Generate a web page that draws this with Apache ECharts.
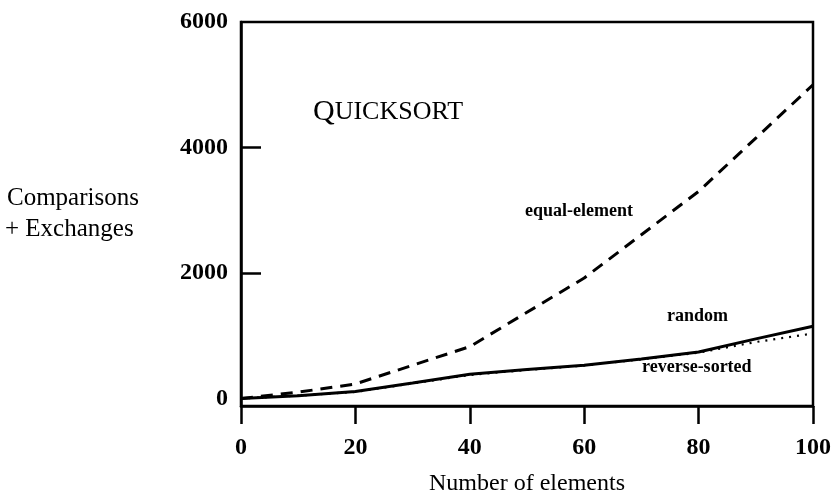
<!DOCTYPE html>
<html>
<head>
<meta charset="utf-8">
<script src="https://cdn.jsdelivr.net/npm/echarts@6/dist/echarts.min.js"></script>
<style>html,body{margin:0;padding:0;background:#fff}#c{width:835px;height:495px}</style>
</head>
<body>
<div id="c"></div>
<script>
var nElements = [0, 10, 20, 30, 40, 50, 60, 70, 80, 90, 100];
var equalElement = [0, 100, 231, 530, 826, 1373, 1920, 2610, 3300, 4150, 5000];
var randomOrder = [0, 45, 110, 245, 385, 460, 530, 630, 740, 950, 1150];
var reverseSorted = [0, 45, 105, 240, 375, 455, 525, 625, 730, 900, 1035];
var xTicks = [0, 20, 40, 60, 80, 100];
var yTickLabels = [0, 2000, 4000, 6000];
var yTickMarks = [2000, 4000];

function pairs(ys) { return nElements.map(function (x, i) { return [x, ys[i]]; }); }

var FONT = '"Liberation Serif", "Times New Roman", serif';
var chart = echarts.init(document.getElementById('c'), null, { renderer: 'canvas' });
chart.setOption({
  animation: false,
  backgroundColor: '#fff',
  grid: { left: 241, right: 22, top: 22, bottom: 89, containLabel: false, outerBoundsMode: 'none',
    show: true, borderColor: '#000', borderWidth: 2.5, backgroundColor: 'transparent' },
  xAxis: {
    type: 'value', min: 0, max: 100, interval: 20,
    name: 'Number of elements', nameLocation: 'middle', nameGap: 66,
    nameTextStyle: { fontFamily: FONT, fontSize: 24, color: '#000' },
    axisLine: { show: true, onZero: false, lineStyle: { color: '#000', width: 2.5 } },
    axisTick: { show: true, inside: false, length: 18, lineStyle: { color: '#000', width: 2.5 }, customValues: xTicks },
    axisLabel: { margin: 30, fontFamily: FONT, fontSize: 24, fontWeight: 'bold', color: '#000', customValues: xTicks,
      formatter: function (v) { return String(v); } },
    splitLine: { show: false }
  },
  yAxis: {
    type: 'value', min: -120, max: 6000,
    axisLine: { show: true, onZero: false, lineStyle: { color: '#000', width: 2.5 } },
    axisTick: { show: true, inside: true, length: 20, lineStyle: { color: '#000', width: 2.5 }, customValues: yTickMarks },
    axisLabel: { margin: 13, fontFamily: FONT, fontSize: 24, fontWeight: 'bold', color: '#000', customValues: yTickLabels,
      formatter: function (v) { return String(v); } },
    splitLine: { show: false }
  },
  series: [
    { name: 'equal-element', type: 'line', data: pairs(equalElement), symbol: 'none',
      lineStyle: { color: '#000', width: 3, type: [12, 8] } },
    { name: 'reverse-sorted', type: 'line', data: pairs(reverseSorted), symbol: 'none',
      lineStyle: { color: '#000', width: 2.2, type: [2, 6] } },
    { name: 'random', type: 'line', data: pairs(randomOrder), symbol: 'none',
      lineStyle: { color: '#000', width: 3 } }
  ],
  graphic: [
    { type: 'text', left: 313, top: 97, style: { rich: {
        big: { fontFamily: FONT, fontSize: 30, fill: '#000' },
        sm: { fontFamily: FONT, fontSize: 26, fill: '#000' } },
        text: '{big|Q}{sm|UICKSORT}' } },
    { type: 'text', left: 525, top: 202, style: { text: 'equal-element', fontFamily: FONT, fontSize: 18, fontWeight: 'bold', fill: '#000' } },
    { type: 'text', left: 667, top: 307, style: { text: 'random', fontFamily: FONT, fontSize: 18, fontWeight: 'bold', fill: '#000' } },
    { type: 'text', left: 642, top: 358, style: { text: 'reverse-sorted', fontFamily: FONT, fontSize: 18, fontWeight: 'bold', fill: '#000' } },
    { type: 'text', left: 7, top: 186, style: { text: 'Comparisons', fontFamily: FONT, fontSize: 25, fill: '#000' } },
    { type: 'text', left: 5, top: 217, style: { text: '+ Exchanges', fontFamily: FONT, fontSize: 25, fill: '#000' } }
  ]
});
</script>
</body>
</html>
